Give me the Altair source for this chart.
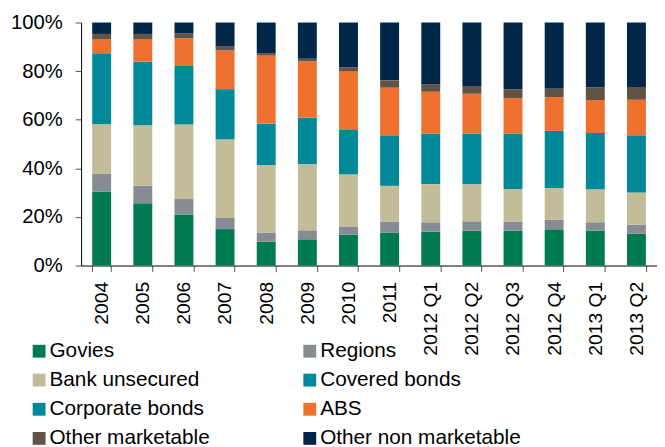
import altair as alt
import pandas as pd

periods = ["2004", "2005", "2006", "2007", "2008", "2009", "2010", "2011",
           "2012 Q1", "2012 Q2", "2012 Q3", "2012 Q4", "2013 Q1", "2013 Q2"]

series = ["Govies", "Regions", "Bank unsecured", "Covered bonds",
          "Corporate bonds", "ABS", "Other marketable", "Other non marketable"]

govies = [30.5, 25.6, 21.0, 15.0, 9.8, 10.8, 12.7, 13.6, 13.9, 14.3, 14.3, 14.9, 14.3, 13.1]
regions = [7.2, 7.2, 6.4, 4.6, 3.8, 3.7, 3.4, 4.5, 3.9, 3.9, 3.8, 3.9, 3.5, 3.7]
bank_unsecured = [20.4, 24.9, 30.6, 32.3, 27.7, 27.2, 21.4, 14.7, 15.7, 15.2, 13.4, 13.1, 13.6, 13.3]
covered_bonds = [29.3, 26.2, 24.1, 20.7, 17.1, 19.1, 18.3, 20.8, 20.8, 20.9, 22.8, 23.5, 23.1, 23.5]
corporate_bonds = [0, 0, 0, 0, 0, 0, 0, 0, 0, 0, 0, 0, 0, 0]
abs_ = [5.6, 9.1, 11.4, 15.9, 28.0, 23.2, 24.1, 19.6, 17.2, 16.4, 14.6, 13.9, 13.6, 14.6]
other_marketable = [2.3, 2.3, 2.0, 1.6, 1.0, 1.1, 1.7, 3.0, 3.0, 3.2, 3.7, 3.4, 5.3, 5.3]
other_non_marketable = [4.7, 4.7, 4.5, 9.9, 12.6, 14.9, 18.4, 23.8, 25.5, 26.1, 27.4, 27.3, 26.6, 26.5]

colors = ["#007A53", "#878C93", "#C2BD98", "#008998",
          "#008998", "#EE722D", "#615346", "#002747"]

values = [govies, regions, bank_unsecured, covered_bonds, corporate_bonds,
          abs_, other_marketable, other_non_marketable]

rows = []
for si, (name, vals) in enumerate(zip(series, values)):
    for p, v in zip(periods, vals):
        rows.append({"period": p, "series": name, "value": v, "order": si})
df = pd.DataFrame(rows)

FONT = "Liberation Sans"

chart = alt.Chart(df).mark_bar().encode(
    x=alt.X("period:N", sort=periods, title=None,
            scale=alt.Scale(paddingInner=0.54, paddingOuter=0.27),
            axis=alt.Axis(labelAngle=270, labelFontSize=19.5, labelColor="#000000",
                          labelFont=FONT, labelPadding=10, tickSize=6,
                          tickColor="#555555", domainColor="#000000",
                          tickBand="extent", labelBaseline="middle")),
    y=alt.Y("value:Q", stack="normalize", title=None,
            scale=alt.Scale(domain=[0, 1]),
            axis=alt.Axis(format=".0%", values=[0, 0.2, 0.4, 0.6, 0.8, 1.0],
                          labelFontSize=20.5, labelColor="#000000", labelFont=FONT,
                          labelPadding=13, tickSize=6, tickColor="#555555",
                          domainColor="#000000", grid=False)),
    color=alt.Color("series:N", sort=series,
                    scale=alt.Scale(domain=series, range=colors),
                    legend=alt.Legend(title=None, orient="none", legendX=-53, legendY=322,
                                      direction="horizontal",
                                      columns=2, columnPadding=90, rowPadding=7.5,
                                      symbolType="square", symbolSize=169,
                                      symbolStrokeWidth=0, labelOffset=0,
                                      labelLimit=0,
                                      labelFontSize=21, labelFont=FONT,
                                      labelColor="#000000", padding=0)),
    order=alt.Order("order:Q", sort="ascending"),
).properties(
    width=583, height=246,
    autosize=alt.AutoSizeParams(type="none"),
    padding={"left": 74, "top": 12, "right": 0, "bottom": 181},
).configure_view(stroke=None)

chart.save("out.html", embed_options={"renderer": "svg", "actions": False})
